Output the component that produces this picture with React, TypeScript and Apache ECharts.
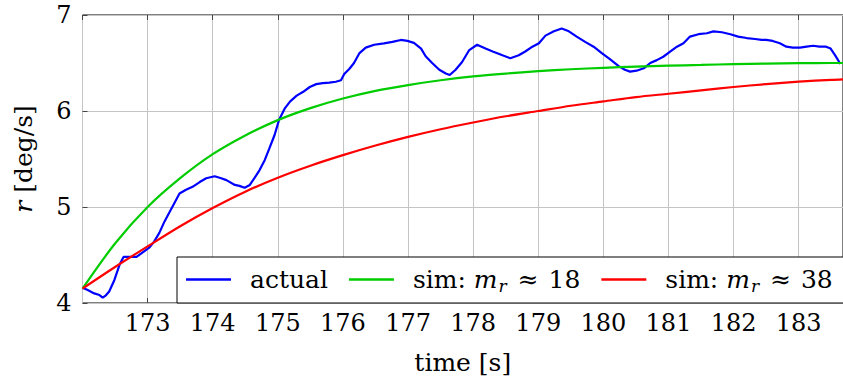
import React, { useEffect, useRef } from 'react';
import * as echarts from 'echarts';

// ---- data ----
const actualTime = [
  172.0, 172.08, 172.18, 172.26, 172.31, 172.36, 172.41, 172.49, 172.57, 172.63,
  172.72, 172.83, 172.93, 173.03, 173.1, 173.18, 173.26, 173.34, 173.41, 173.49,
  173.59, 173.69, 173.8, 173.9, 174.03, 174.13, 174.21, 174.34, 174.41, 174.49,
  174.57, 174.64, 174.72, 174.8, 174.87, 174.95, 175.02, 175.11, 175.19, 175.29,
  175.39, 175.49, 175.59, 175.69, 175.79, 175.89, 175.97, 176.02, 176.1, 176.17,
  176.25, 176.35, 176.48, 176.63, 176.76, 176.89, 176.99, 177.09, 177.2, 177.27,
  177.37, 177.48, 177.58, 177.64, 177.73, 177.83, 177.94, 178.06, 178.19, 178.3,
  178.45, 178.57, 178.7, 178.8, 178.91, 179.01, 179.11, 179.24, 179.36, 179.47,
  179.59, 179.72, 179.85, 179.98, 180.1, 180.23, 180.33, 180.41, 180.51, 180.62,
  180.72, 180.82, 180.92, 181.03, 181.13, 181.23, 181.33, 181.46, 181.59, 181.69,
  181.82, 181.95, 182.07, 182.2, 182.33, 182.43, 182.5, 182.6, 182.71, 182.81,
  182.91, 183.02, 183.12, 183.22, 183.32, 183.42, 183.49, 183.56, 183.64,
];
const actualValue = [
  4.16, 4.135, 4.1, 4.083, 4.055, 4.08, 4.12, 4.24, 4.4, 4.48,
  4.48, 4.48, 4.53, 4.58, 4.64, 4.73, 4.85, 4.95, 5.04, 5.14,
  5.18, 5.21, 5.26, 5.3, 5.32, 5.3, 5.28, 5.23, 5.22, 5.2,
  5.23, 5.3, 5.385, 5.49, 5.61, 5.75, 5.91, 6.03, 6.1, 6.16,
  6.2, 6.25, 6.28, 6.29, 6.295, 6.305, 6.32, 6.385, 6.44, 6.5,
  6.6, 6.66, 6.69, 6.705, 6.72, 6.74, 6.73, 6.71, 6.65, 6.57,
  6.5, 6.43, 6.39, 6.375, 6.43, 6.51, 6.635, 6.69, 6.65, 6.62,
  6.58, 6.55, 6.58, 6.62, 6.67, 6.705, 6.785, 6.83, 6.86, 6.83,
  6.775, 6.72, 6.67, 6.6, 6.54, 6.47, 6.43, 6.41, 6.42, 6.445,
  6.5, 6.53, 6.565, 6.62, 6.67, 6.705, 6.775, 6.8, 6.81, 6.83,
  6.82, 6.8, 6.775, 6.76, 6.75, 6.74, 6.74, 6.73, 6.705, 6.67,
  6.66, 6.66, 6.67, 6.68, 6.67, 6.67, 6.65, 6.58, 6.49,
];
const simTime = [
  172.0, 172.5, 173, 173.5, 174, 174.5, 175, 175.5, 176, 176.5, 177, 177.5,
  178, 178.5, 179, 179.5, 180, 180.5, 181, 181.5, 182, 182.5, 183, 183.5, 183.68,
];
const sim18Value = [
  4.15, 4.62, 5.0, 5.3, 5.55, 5.745, 5.905, 6.03, 6.13, 6.21, 6.27, 6.32,
  6.36, 6.39, 6.415, 6.435, 6.45, 6.462, 6.472, 6.48, 6.488, 6.494, 6.498, 6.5, 6.5,
];
const sim38Value = [
  4.15, 4.375, 4.59, 4.8, 4.99, 5.16, 5.305, 5.43, 5.54, 5.64, 5.73, 5.81,
  5.88, 5.945, 6.0, 6.055, 6.1, 6.145, 6.18, 6.215, 6.25, 6.28, 6.305, 6.325, 6.33,
];

const seriesNames = ['actual', 'sim: mr ≈ 18', 'sim: mr ≈ 38'];
const legendRich = [
  '{n|actual}',
  '{n|sim: }{i|m}{s|r}{a| ≈ }{n|18}',
  '{n|sim: }{i|m}{s|r}{a| ≈ }{n|38}',
];

const X_MIN = 172;
const X_MAX = 183.68;
const FONT = 'DejaVu Serif';

export default function App() {
  const ref = useRef<HTMLDivElement>(null);

  useEffect(() => {
    if (!ref.current) return;
    const chart = echarts.init(ref.current, undefined, { renderer: 'svg' });
    const zip = (xs: number[], ys: number[]) => xs.map((x, i) => [x, ys[i]]);
    const tickStyle = { inside: true, length: 5, lineStyle: { color: '#444', width: 1 } };
    const gridLine = { show: true, lineStyle: { color: '#c4c4c4', width: 1 } };

    chart.setOption({
      animation: false,
      backgroundColor: '#fff',
      textStyle: { fontFamily: FONT },
      grid: {
        left: 82.5,
        right: -2,
        top: 15,
        bottom: 82,
        show: true,
        borderColor: '#000',
        borderWidth: 1,
      },
      xAxis: [
        {
          type: 'value',
          min: X_MIN,
          max: X_MAX,
          interval: 1,
          axisLine: { show: false },
          axisTick: tickStyle,
          splitLine: gridLine,
          axisLabel: {
            showMinLabel: false,
            showMaxLabel: false,
            margin: 8,
            color: '#000',
            fontFamily: FONT,
            fontSize: 24,
            formatter: (v: number) => (Math.abs(v - Math.round(v)) < 1e-6 ? String(Math.round(v)) : ''),
          },
          name: 'time [s]',
          nameLocation: 'middle',
          nameGap: 47,
          nameTextStyle: { color: '#000', fontFamily: FONT, fontSize: 25 },
        },
        {
          type: 'value',
          position: 'top',
          min: X_MIN,
          max: X_MAX,
          interval: 1,
          axisLine: { show: false },
          axisTick: tickStyle,
          splitLine: { show: false },
          axisLabel: { show: false },
        },
      ],
      yAxis: {
        type: 'value',
        min: 4,
        max: 7,
        interval: 1,
        axisLine: { show: false },
        axisTick: tickStyle,
        splitLine: gridLine,
        axisLabel: { margin: 11, color: '#000', fontFamily: FONT, fontSize: 24 },
        name: '{i|r} [deg/s]',
        nameLocation: 'middle',
        nameGap: 47,
        nameTextStyle: {
          color: '#000',
          fontFamily: FONT,
          fontSize: 25,
          rich: { i: { fontFamily: FONT, fontSize: 25, fontStyle: 'italic', color: '#000' } },
        },
      },
      legend: {
        left: 186,
        top: 267,
        padding: 0,
        icon: 'rect',
        itemWidth: 45,
        itemHeight: 2.5,
        itemGap: 21,
        data: seriesNames,
        formatter: (name: string) => legendRich[seriesNames.indexOf(name)],
        textStyle: {
          color: '#000',
          fontFamily: FONT,
          fontSize: 25,
          padding: [0, 0, 0, 14],
          rich: {
            n: { fontFamily: FONT, fontSize: 25, color: '#000' },
            a: { fontFamily: FONT, fontSize: 25, color: '#000', padding: [0, 2, 0, 3] },
            i: { fontFamily: FONT, fontSize: 25, fontStyle: 'italic', color: '#000' },
            s: { fontFamily: FONT, fontSize: 17, fontStyle: 'italic', color: '#000', padding: [12, 0, 0, 1], verticalAlign: 'bottom' },
          },
        },
      },
      graphic: [
        {
          type: 'rect',
          z: 3,
          shape: { x: 177, y: 257, width: 700, height: 46 },
          style: { fill: '#fff', stroke: '#000', lineWidth: 1 },
        },
      ],
      series: [
        {
          name: seriesNames[0],
          type: 'line',
          data: zip(actualTime, actualValue),
          symbol: 'none',
          lineStyle: { color: '#0000ff', width: 2.2 },
          itemStyle: { color: '#0000ff' },
          z: 2,
        },
        {
          name: seriesNames[1],
          type: 'line',
          data: zip(simTime, sim18Value),
          symbol: 'none',
          smooth: 0.3,
          lineStyle: { color: '#00cc00', width: 2.2 },
          itemStyle: { color: '#00cc00' },
          z: 2,
        },
        {
          name: seriesNames[2],
          type: 'line',
          data: zip(simTime, sim38Value),
          symbol: 'none',
          smooth: 0.3,
          lineStyle: { color: '#ff0000', width: 2.2 },
          itemStyle: { color: '#ff0000' },
          z: 2,
        },
      ],
    });
    return () => chart.dispose();
  }, []);

  return (
    <div
      ref={ref}
      style={{ position: 'fixed', left: 0, top: 0, width: 843, height: 385, background: '#fff' }}
    />
  );
}
